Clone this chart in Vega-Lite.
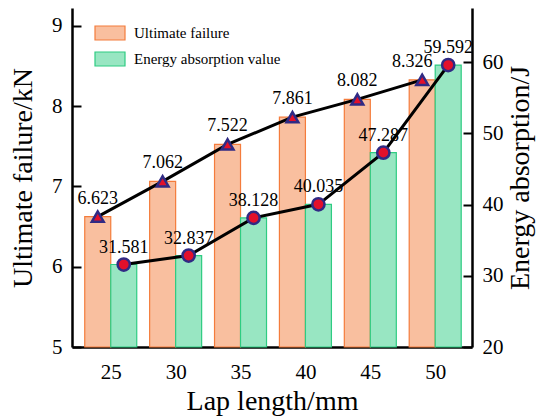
{
  "$schema": "https://vega.github.io/schema/vega-lite/v6.json",
  "width": 400,
  "height": 339,
  "autosize": "none",
  "padding": {"left": 72, "top": 8, "right": 68, "bottom": 73},
  "background": "white",
  "config": {
    "view": {"stroke": null},
    "font": "Liberation Serif",
    "axis": {
      "grid": false,
      "domainColor": "black",
      "domainWidth": 2.5,
      "tickColor": "black",
      "tickWidth": 2,
      "tickSize": -9,
      "labelFont": "Liberation Serif",
      "labelFontSize": 21,
      "labelColor": "black",
      "labelPadding": 19,
      "titleFont": "Liberation Serif",
      "titleFontSize": 28,
      "titleFontWeight": "normal",
      "titleColor": "black"
    },
    "legend": {
      "labelFont": "Liberation Serif",
      "labelFontSize": 15,
      "labelColor": "black"
    }
  },
  "datasets": {
    "d": [
      {"lap": 25, "ultimate": 6.623, "energy": 31.581},
      {"lap": 30, "ultimate": 7.062, "energy": 32.837},
      {"lap": 35, "ultimate": 7.522, "energy": 38.128},
      {"lap": 40, "ultimate": 7.861, "energy": 40.035},
      {"lap": 45, "ultimate": 8.082, "energy": 47.287},
      {"lap": 50, "ultimate": 8.326, "energy": 59.592}
    ]
  },
  "data": {"name": "d"},
  "encoding": {
    "x": {
      "field": "lap",
      "type": "quantitative",
      "scale": {"domain": [22.4, 52.45], "nice": false, "zero": false},
      "axis": {"values": [25, 30, 35, 40, 45, 50], "title": "Lap length/mm", "labelPadding": 23, "titlePadding": 5}
    }
  },
  "layer": [
    {
      "encoding": {
        "y": {
          "field": "ultimate",
          "type": "quantitative",
          "scale": {"domain": [5, 9.22], "nice": false, "zero": false},
          "axis": {"orient": "left", "values": [5, 6, 7, 8, 9], "title": "Ultimate failure/kN", "titlePadding": 14}
        }
      },
      "layer": [
        {
          "mark": {"type": "bar", "width": 26, "xOffset": -13, "strokeWidth": 1.2},
          "encoding": {
            "y2": {"datum": 5},
            "fill": {
              "datum": "Ultimate failure",
              "type": "nominal",
              "scale": {"domain": ["Ultimate failure", "Energy absorption value"], "range": ["#f9bf9f", "#98e6c2"]},
              "legend": {
                "title": null,
                "orient": "none",
                "legendX": 22,
                "legendY": 9,
                "symbolType": "M-1,-0.467H1V0.467H-1Z",
                "symbolSize": 900,
                "symbolStrokeWidth": 1.2,
                "rowPadding": -13,
                "labelOffset": 8,
                "labelFont": "Liberation Serif",
                "labelFontSize": 15,
                "encode": {"labels": {"update": {"font": {"value": "Liberation Serif"}}}}
              }
            },
            "stroke": {
              "datum": "Ultimate failure",
              "type": "nominal",
              "scale": {"domain": ["Ultimate failure", "Energy absorption value"], "range": ["#f47c3c", "#2ecc82"]},
              "legend": {
                "title": null,
                "orient": "none",
                "legendX": 22,
                "legendY": 9,
                "symbolType": "M-1,-0.467H1V0.467H-1Z",
                "symbolSize": 900,
                "symbolStrokeWidth": 1.2,
                "rowPadding": -13,
                "labelOffset": 8,
                "labelFont": "Liberation Serif",
                "labelFontSize": 15,
                "encode": {"labels": {"update": {"font": {"value": "Liberation Serif"}}}}
              }
            }
          }
        },
        {
          "mark": {"type": "line", "color": "black", "strokeWidth": 3, "xOffset": -13},
          "encoding": {}
        },
        {
          "mark": {"type": "point", "shape": "triangle-up", "filled": true, "fill": "#e3102b", "stroke": "#302a84", "strokeWidth": 2.5, "size": 140, "opacity": 1, "xOffset": -13},
          "encoding": {}
        },
        {
          "transform": [{"filter": "datum.lap < 50"}],
          "mark": {"type": "text", "fontSize": 18, "font": "Liberation Serif", "color": "black", "xOffset": -13, "dy": -13, "baseline": "alphabetic"},
          "encoding": {"text": {"field": "ultimate", "type": "quantitative", "format": ".3f"}}
        },
        {
          "transform": [{"filter": "datum.lap == 50"}],
          "mark": {"type": "text", "fontSize": 18, "font": "Liberation Serif", "color": "black", "xOffset": -23, "dy": -13, "baseline": "alphabetic"},
          "encoding": {"text": {"field": "ultimate", "type": "quantitative", "format": ".3f"}}
        }
      ]
    },
    {
      "encoding": {
        "y": {
          "field": "energy",
          "type": "quantitative",
          "scale": {"domain": [20, 67.6], "nice": false, "zero": false},
          "axis": {"orient": "right", "values": [20, 30, 40, 50, 60], "title": "Energy absorption/J", "titleAngle": 270, "titleBaseline": "top", "titlePadding": 3}
        }
      },
      "layer": [
        {
          "mark": {"type": "bar", "width": 26, "xOffset": 13, "strokeWidth": 1.2},
          "encoding": {
            "y2": {"datum": 20},
            "fill": {"datum": "Energy absorption value", "type": "nominal"},
            "stroke": {"datum": "Energy absorption value", "type": "nominal"}
          }
        },
        {
          "mark": {"type": "line", "color": "black", "strokeWidth": 3, "xOffset": 13},
          "encoding": {}
        },
        {
          "mark": {"type": "point", "shape": "circle", "filled": true, "fill": "#e3102b", "stroke": "#302a84", "strokeWidth": 2.5, "size": 150, "opacity": 1, "xOffset": 13},
          "encoding": {}
        },
        {
          "mark": {"type": "text", "fontSize": 18, "font": "Liberation Serif", "color": "black", "xOffset": 13, "dy": -12, "baseline": "alphabetic"},
          "encoding": {"text": {"field": "energy", "type": "quantitative", "format": ".3f"}}
        }
      ]
    }
  ],
  "resolve": {"scale": {"y": "independent"}}
}
